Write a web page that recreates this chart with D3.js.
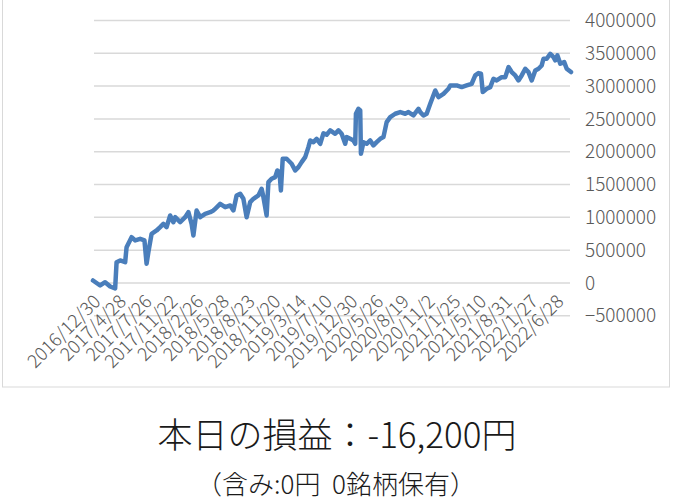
<!DOCTYPE html>
<html>
<head>
<meta charset="utf-8">
<script src="https://cdn.jsdelivr.net/npm/d3@7"></script>
<style>
  html, body { margin: 0; padding: 0; background: #fff; }
  svg { display: block; }
</style>
</head>
<body>
<div id="chart"></div>
<script>
//! CONSTS
const WIDTH = 673;
const HEIGHT = 502;
const STEP = 72; // trading days between category labels

// day index of each point and cumulative profit (yen)
const days = [0, 20, 34, 48, 62, 66, 76, 90, 94, 108, 118, 132, 144, 150, 155, 164, 178, 188, 197, 206,
  216, 225, 230, 244, 258, 267, 276, 281, 290, 300, 314, 328, 337, 342, 356, 370, 384, 393, 402, 412,
  421, 430, 440, 449, 463, 472, 477, 486, 491, 500, 510, 516, 522, 526, 531, 542, 556, 566, 575, 584,
  594, 603, 608, 617, 626, 636, 645, 654, 664, 678, 687, 696, 706, 710, 720, 729, 734, 736, 743, 748,
  750, 757, 766, 776, 785, 794, 804, 813, 822, 832, 846, 860, 874, 883, 897, 911, 916, 925, 934, 944,
  958, 967, 981, 995, 1000, 1018, 1032, 1046, 1060, 1070, 1079, 1086, 1091, 1102, 1112, 1121, 1130, 1144, 1154, 1163,
  1172, 1182, 1191, 1200, 1210, 1219, 1228, 1238, 1247, 1256, 1261, 1270, 1280, 1289, 1294, 1300, 1308, 1319, 1326, 1338];
const profit = [38000, -38000, 12000, -53000, -84000, 317000, 343000, 317000, 546000, 698000, 648000, 673000, 648000, 293000, 470000, 750000, 800000, 851000, 902000, 851000,
  1029000, 927000, 1003000, 927000, 1003000, 1079000, 902000, 724000, 1105000, 1003000, 1054000, 1079000, 1105000, 1131000, 1207000, 1156000, 1181000, 1105000, 1334000, 1360000,
  1283000, 1003000, 1232000, 1283000, 1334000, 1436000, 1309000, 1029000, 1537000, 1588000, 1613000, 1715000, 1690000, 1410000, 1893000, 1893000, 1817000, 1715000, 1766000, 1842000,
  1918000, 2070000, 2172000, 2146000, 2197000, 2121000, 2280000, 2260000, 2325000, 2274000, 2325000, 2274000, 2121000, 2223000, 2197000, 2172000, 2121000, 2579000, 2655000, 2629000,
  1969000, 2146000, 2121000, 2172000, 2096000, 2146000, 2197000, 2223000, 2451000, 2527000, 2579000, 2604000, 2579000, 2604000, 2553000, 2655000, 2604000, 2553000, 2579000, 2731000,
  2934000, 2832000, 2883000, 2960000, 3010000, 3010000, 2985000, 3010000, 3036000, 3163000, 3198000, 3188000, 2909000, 2960000, 2985000, 3112000, 3087000, 3137000, 3137000, 3290000,
  3214000, 3163000, 3087000, 3163000, 3265000, 3214000, 3087000, 3239000, 3265000, 3315000, 3417000, 3417000, 3493000, 3442000, 3392000, 3468000, 3341000, 3366000, 3265000, 3214000];

const dateLabels = ['2016/12/30', '2017/4/28', '2017/7/26', '2017/11/22', '2018/2/26', '2018/5/28', '2018/8/23',
  '2018/11/20', '2019/3/14', '2019/7/10', '2019/12/30', '2020/5/26', '2020/8/19', '2020/11/2', '2021/1/25',
  '2021/5/10', '2021/8/31', '2022/1/27', '2022/6/28'];
const yTicks = [-500000, 0, 500000, 1000000, 1500000, 2000000, 2500000, 3000000, 3500000, 4000000];

const titleText = '本日の損益：-16,200円';
const subText = '（含み:0円  0銘柄保有）';

//! SVG
const svg = d3.select('#chart')
  .append('svg')
  .attr('width', WIDTH)
  .attr('height', HEIGHT);

// chart area frame
svg.append('rect')
  .attr('x', 2.5).attr('y', -1)
  .attr('width', 667).attr('height', 388)
  .attr('fill', 'none')
  .attr('stroke', '#d9d9d9');

//! SCALES
const x = d3.scaleLinear()
  .domain([0, 1338])
  .range([93, 571]);

const y = d3.scaleLinear()
  .domain([-500000, 4000000])
  .range([315.8, 20.5]);

// gridlines
svg.append('g')
  .selectAll('line')
  .data(yTicks)
  .enter()
  .append('line')
  .attr('x1', 94).attr('x2', 570)
  .attr('y1', d => y(d)).attr('y2', d => y(d))
  .attr('stroke', '#d9d9d9')
  .attr('stroke-width', 1.5);

// y axis labels (right side)
const yAxis = d3.axisRight(y)
  .tickValues(yTicks)
  .tickFormat(d3.format('d'))
  .tickSize(0)
  .tickPadding(0);

svg.append('g')
  .attr('transform', 'translate(585,0)')
  .call(yAxis)
  .call(g => g.select('.domain').remove())
  .selectAll('text')
  .attr('fill', '#595959')
  .attr('font-family', '"Noto Sans CJK JP", "Noto Sans", sans-serif')
  .attr('font-weight', 300)
  .attr('font-size', 19);

// category labels, every STEP points
svg.append('g')
  .selectAll('text')
  .data(dateLabels)
  .enter()
  .append('text')
  .attr('transform', (d, i) => `translate(${x(i * STEP) + 3},297) rotate(-45)`)
  .attr('text-anchor', 'end')
  .attr('dominant-baseline', 'central')
  .attr('fill', '#595959')
  .attr('font-family', '"Noto Sans CJK JP", "Noto Sans", sans-serif')
  .attr('font-weight', 300)
  .attr('font-size', 18.5)
  .text(d => d);

// the line
const line = d3.line()
  .x((d, i) => x(days[i]))
  .y(d => y(d));

svg.append('path')
  .datum(profit)
  .attr('fill', 'none')
  .attr('stroke', '#4a7ebb')
  .attr('stroke-width', 4.5)
  .attr('stroke-linejoin', 'round')
  .attr('stroke-linecap', 'round')
  .attr('d', line);

// texts under the chart
svg.append('text')
  .attr('x', 337).attr('y', 448)
  .attr('text-anchor', 'middle')
  .attr('fill', '#1a1a1a')
  .attr('font-family', '"Noto Sans CJK JP", sans-serif')
  .attr('font-weight', 300)
  .attr('font-size', 35)
  .text(titleText);

svg.append('text')
  .attr('x', 336).attr('y', 494)
  .attr('text-anchor', 'middle')
  .attr('fill', '#1a1a1a')
  .attr('font-family', '"Noto Sans CJK JP", sans-serif')
  .attr('font-weight', 300)
  .attr('font-size', 26)
  .style('white-space', 'pre')
  .text(subText);
</script>
</body>
</html>
